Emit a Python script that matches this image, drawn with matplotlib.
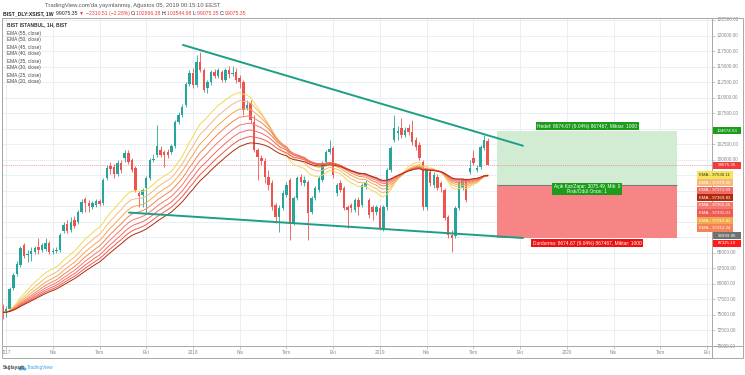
import numpy as np
import pandas as pd
import matplotlib
matplotlib.use("Agg")
import matplotlib.pyplot as plt
import matplotlib.transforms as mtransforms
from matplotlib.patches import Rectangle, Ellipse
from matplotlib.lines import Line2D

plt.rcParams['font.family'] = ['Liberation Sans', 'DejaVu Sans']

# ---------------- data ----------------
week0 = pd.Timestamp('2017-01-02')
dates = pd.date_range('2016-12-26', periods=136, freq='7D')

opens = [76218, 75415, 75897, 79272, 81522, 82968, 86343, 84575, 84896, 85218,
         86021, 85539, 85700, 86664, 85218, 85378, 85539, 88593, 89718, 88753,
         90360, 90039, 91647, 93735, 93093, 92450, 92771, 93414, 93093, 97110,
         99037, 98877, 97752, 99520, 100323, 101127, 100002, 98716, 94699, 94378,
         95503, 97110, 100002, 100805, 101609, 101288, 101288, 101288, 102251, 106109,
         107233, 108840, 112216, 113983, 112054, 115751, 114465, 111572, 112537, 114144,
         113501, 114144, 112858, 114465, 113822, 114144, 113180, 112537, 108358, 109162,
         106109, 101609, 100323, 99841, 97270, 96306, 92771, 90843, 92290, 94378,
         96788, 89878, 93896, 97270, 96306, 96467, 91647, 93896, 95181, 96788,
         99680, 101288, 101930, 94699, 96306, 95503, 92450, 92771, 91968, 93574,
         92771, 95664, 93574, 92450, 91647, 92290, 89075, 92450, 98395, 103216,
         104341, 105144, 104020, 105144, 104502, 103216, 102412, 99680, 92450, 98074,
         95985, 97270, 96306, 95181, 90843, 87950, 87789, 92290, 95503, 96788,
         98074, 100323, 98395, 98877, 101930, 102966.38]
highs = [76700, 76379, 79432, 81682, 83610, 86182, 86664, 85539, 86021, 86182,
         87468, 86664, 87468, 86986, 85860, 86021, 88271, 90039, 90360, 90843,
         91004, 91968, 93735, 94057, 93574, 93414, 93735, 93735, 97110, 99198,
         99680, 99359, 100002, 100002, 101609, 101609, 100323, 99037, 95021, 95503,
         97431, 100323, 100966, 105626, 102251, 101609, 101770, 102573, 106430, 107715,
         108997, 112537, 114465, 114786, 116875, 117358, 114786, 112858, 114465, 114625,
         114786, 114465, 114786, 115108, 115108, 114786, 113661, 112858, 109644, 109644,
         107233, 101930, 100805, 100323, 98395, 96788, 93093, 92771, 95181, 96467,
         97110, 94217, 97431, 97752, 97431, 96788, 94217, 95824, 97431, 99841,
         101609, 103216, 102251, 96306, 96788, 95824, 92771, 93093, 93896, 94057,
         96306, 96788, 93896, 92771, 92771, 92771, 92771, 98716, 102251, 107233,
         105466, 106751, 105305, 105787, 106430, 103698, 102895, 100002, 98716, 98716,
         98074, 97752, 96627, 95503, 91165, 88753, 92610, 96788, 97110, 97110,
         100002, 101609, 99198, 102412, 104020, 103544.98]
lows = [74290, 74611, 75576, 78950, 81200, 82646, 84093, 83450, 83610, 84896,
        84736, 85218, 85378, 84896, 84896, 85057, 85218, 88271, 88271, 88432,
        89075, 89718, 91486, 91647, 91647, 92129, 92450, 92610, 92771, 96788,
        97752, 97110, 97431, 97913, 99680, 99359, 98074, 94860, 92450, 92450,
        91326, 96788, 99680, 100484, 100484, 98877, 100323, 100966, 101930, 105787,
        106912, 108519, 111894, 111572, 111733, 114144, 110930, 110769, 112054, 113180,
        113180, 112537, 112537, 113180, 113501, 112376, 111572, 107233, 108037, 105948,
        101288, 96788, 99198, 96306, 95181, 91968, 89878, 88432, 91968, 94057,
        87146, 89557, 93574, 95985, 95824, 87146, 91326, 93574, 94860, 96467,
        99359, 100966, 97110, 94217, 94860, 91968, 89075, 91647, 91647, 91165,
        92450, 95342, 90682, 90360, 91165, 88753, 88593, 91968, 98074, 102895,
        103216, 103537, 103698, 104020, 102412, 101609, 100002, 91968, 91968, 95824,
        95503, 95181, 94860, 90360, 87468, 85218, 87468, 91968, 95181, 93253,
        97752, 99198, 98074, 98556, 101609, 99075.35]
closes = [75415, 75897, 79111, 81361, 83128, 85860, 84415, 84896, 85378, 85860,
          85539, 86343, 86664, 85218, 85378, 85539, 87950, 89557, 88593, 90039,
          89396, 91647, 93253, 93093, 92610, 93093, 93414, 92932, 96788, 98716,
          98556, 97752, 99520, 98395, 101127, 99680, 98395, 95181, 94217, 95181,
          97110, 100002, 100162, 102251, 100805, 100805, 100805, 102251, 106109, 107233,
          108519, 112216, 113983, 112054, 115751, 114465, 111251, 112537, 114144, 113501,
          114465, 112858, 114465, 113822, 113983, 112858, 112537, 108037, 108840, 106430,
          101609, 100484, 99841, 97270, 95985, 92450, 90843, 92290, 94699, 95985,
          89878, 93896, 97110, 96467, 96788, 91486, 93896, 95503, 97110, 99520,
          101288, 101770, 97592, 95985, 95181, 92290, 91968, 92290, 93574, 92450,
          95985, 96306, 91165, 91647, 92450, 89075, 92450, 98395, 101930, 105144,
          104663, 104020, 104823, 104502, 102895, 102091, 100323, 92450, 98395, 96306,
          97592, 95503, 95664, 90682, 87950, 87468, 92290, 96467, 96788, 93574,
          98716, 99520, 98716, 102091, 103216, 99075.35]

ema_lengths = [20, 25, 30, 35, 40, 45, 50, 55]
ema_colors = ['#f3d84c', '#f6b977', '#f4a84c', '#f48456', '#f27a70', '#f26a62', '#ef5a52', '#b02a0e']
ema_last_values = [97530.11, 97379.40, 97319.42, 97312.34, 97355.25, 97371.09, 97331.01, 97369.83]

tick_dates = pd.to_datetime(['2017-01-02', '2017-04-03', '2017-07-03', '2017-10-02',
                             '2018-01-01', '2018-04-02', '2018-07-02', '2018-10-01',
                             '2018-12-31', '2019-04-01', '2019-07-01', '2019-09-30',
                             '2019-12-30', '2020-03-30', '2020-06-29', '2020-09-28'])
tick_labels = ['2017', 'Nis', 'Tem', 'Eki', '2018', 'Nis', 'Tem', 'Eki',
               '2019', 'Nis', 'Tem', 'Eki', '2020', 'Nis', 'Tem', 'Eki']
price_ticks = list(range(70000, 122501, 2500))

upper_trend_x = [49.2, 143.8]
upper_trend_y = [118480, 102250]
lower_trend_x = [34.2, 143.8]
lower_trend_y = [91490, 87390]

pos_x = [136.6, 186.7]
target_price = 104674.53
entry_price = 95999.86
stop_price = 87325.19
last_price = 99075.35

# ---------------- figure ----------------
W, H = 745, 375
fig = plt.figure(figsize=(W / 100, H / 100), dpi=100)
fig.patch.set_facecolor('white')
ax = fig.add_axes([2 / W, 1 - 346 / H, 710 / W, 328 / H])
ax.set_facecolor('white')

x = ((dates - week0).days / 7).values.astype(float)
O = np.array(opens, float); C = np.array(closes, float)
Hh = np.maximum(np.array(highs, float), np.maximum(O, C))
Ll = np.minimum(np.array(lows, float), np.minimum(O, C))

ylo, yhi = 70112, 122821
ax.set_xlim(-1.14, 196.4)
ax.set_ylim(ylo, yhi)
upp = (yhi - ylo) / 328.0  # price units per pixel

tick_x = ((tick_dates - week0).days / 7).values.astype(float)
grid_c = '#e6edf5'
for t in tick_x:
    ax.axvline(t, color=grid_c, lw=0.6, zorder=0)
for p in price_ticks:
    ax.axhline(p, color=grid_c, lw=0.6, zorder=0)

green, red = '#26a69a', '#ef5350'
cols = np.where(C >= O, green, red)
ax.vlines(x, Ll, Hh, colors=cols, lw=0.6, zorder=2)
ax.bar(x, np.maximum(np.abs(C - O), 60), bottom=np.minimum(O, C), width=0.68,
       color=cols, linewidth=0, zorder=2.1)

close_s = pd.Series(C)
for n, col in zip(ema_lengths, ema_colors):
    ema = close_s.ewm(span=n, adjust=False).mean()
    ax.plot(x, ema.values, color=col, lw=0.7, zorder=3)

tl_c = '#1e9e84'
ax.plot(upper_trend_x, upper_trend_y, color=tl_c, lw=1.4, zorder=4, solid_capstyle='round')
ax.plot(lower_trend_x, lower_trend_y, color=tl_c, lw=1.4, zorder=4, solid_capstyle='round')

# long position tool
ax.add_patch(Rectangle((pos_x[0], entry_price), pos_x[1] - pos_x[0], target_price - entry_price,
                       fc='#d2ecd3', ec='none', zorder=1))
ax.add_patch(Rectangle((pos_x[0], stop_price), pos_x[1] - pos_x[0], entry_price - stop_price,
                       fc='#f88585', ec='none', zorder=1))
ax.hlines(entry_price, pos_x[0], pos_x[1], color='#7a7a7a', lw=0.8, zorder=1.5)
ax.axhline(last_price, color=red, lw=0.5, ls=(0, (1.5, 1.5)), alpha=0.7, zorder=1.2)

ctr = (pos_x[0] + pos_x[1]) / 2
def off(dy_px):
    return mtransforms.offset_copy(ax.transData, fig=fig, x=0, y=dy_px * 0.72, units='points')
ax.text(ctr, target_price, 'Hedef: 8674.67 (9.04%) 867467, Miktar: 1000', transform=off(4.5),
        ha='center', va='center', fontsize=3.5, color='white', zorder=6,
        bbox=dict(boxstyle='square,pad=0.3', fc='#1b9c1b', ec='none'))
ax.text(ctr, entry_price, 'Açık Kar/Zarar: 3075.49, Mik: 0\nRisk/Ödül Oranı: 1', transform=off(-4.5),
        ha='center', va='center', fontsize=3.4, color='white', zorder=6, linespacing=1.0,
        bbox=dict(boxstyle='square,pad=0.3', fc='#1b9c1b', ec='none'))
ax.text(ctr, stop_price, 'Durdurma: 8674.67 (9.04%) 867467, Miktar: 1000', transform=off(-5.0),
        ha='center', va='center', fontsize=3.5, color='white', zorder=6,
        bbox=dict(boxstyle='square,pad=0.3', fc='#ee1111', ec='none'))

# spines / ticks
for s in ax.spines.values():
    s.set_color('#a8a8a8'); s.set_linewidth(0.7)
ax.set_xticks(tick_x)
ax.set_yticks(price_ticks)
ax.yaxis.tick_right()
ax.tick_params(axis='both', length=2, width=0.5, color='#b0b0b0', labelbottom=False, labelright=False)

# time labels
clipbox = mtransforms.Bbox([[2, 0], [712, H]])
blend_x = mtransforms.blended_transform_factory(ax.transData, fig.transFigure)
for t, lab in zip(tick_x, tick_labels):
    tx = ax.text(t, 1 - 352 / H, lab, transform=blend_x, ha='center', va='center',
                 fontsize=3.4, color='#8a8a8a', clip_on=True)
    tx.set_clip_box(clipbox)

# badges on price scale (stacked)
badges = [(target_price, f'{target_price:.2f}', '#1b9c1b', 'white', 'p'),
          (last_price, f'{last_price:.2f}', '#f23b3b', 'white', 'p'),
          (entry_price, f'{entry_price:.2f}', '#707070', 'white', 'p'),
          (stop_price, f'{stop_price:.2f}', '#ff1a1a', 'white', 'p')]
for v, col in zip(ema_last_values, ema_colors):
    tc = '#333333' if col == '#f3d84c' else 'white'
    fc = '#f8e45c' if col == '#f3d84c' else col
    badges.append((v, f'EMA - {v:.2f}', fc, tc, 'e'))
badges.sort(key=lambda b: -b[0])
step = 7.6 * upp
placed = []
prev = None
for v, txt, fc, tc, kind in badges:
    yv = v if prev is None else min(v, prev - step)
    placed.append((yv, txt, fc, tc, kind))
    prev = yv

blend_y = mtransforms.blended_transform_factory(ax.transAxes, ax.transData)
bh = 7.3 * upp
for yv, txt, fc, tc, kind in placed:
    if kind == 'e':
        x0, x1 = (697 - 2) / 710, (733 - 2) / 710
    else:
        x0, x1 = (713 - 2) / 710, (741 - 2) / 710
    ax.add_patch(Rectangle((x0, yv - bh / 2), x1 - x0, bh, transform=blend_y, fc=fc, ec='none',
                           clip_on=False, zorder=7))
    ax.text((x0 + x1) / 2, yv, txt, transform=blend_y, ha='center', va='center', fontsize=3.2,
            color=tc, clip_on=False, zorder=8)

badge_vals = [b[0] for b in placed]
for p in price_ticks:
    if any(abs(p - b) < 5.5 * upp for b in badge_vals):
        continue
    ax.text((717 - 2) / 710, p, f'{p:.2f}', transform=blend_y, ha='left', va='center',
            fontsize=3.4, color='#8a8a8a', clip_on=False, zorder=5)

# outer frame
fr = '#a8a8a8'
fig.add_artist(Rectangle((2 / W, 1 - 358 / H), 741 / W, 340 / H, transform=fig.transFigure,
                         fill=False, ec=fr, lw=0.7))
fig.add_artist(Line2D([712 / W, 712 / W], [1 - 358 / H, 1 - 346 / H], transform=fig.transFigure, color=fr, lw=0.7))
fig.add_artist(Line2D([712 / W, 743 / W], [1 - 346 / H, 1 - 346 / H], transform=fig.transFigure, color=fr, lw=0.7))

# legend
fig.text(7 / W, 1 - 25 / H, 'BIST ISTANBUL, 1H, BIST', fontsize=3.5, fontweight='bold', color='#333333', va='center')
for k, n in enumerate(sorted(ema_lengths, reverse=True)):
    fig.text(7 / W, 1 - (33 + 7 * k) / H, f'EMA ({n}, close)', fontsize=3.4, color='#444444', va='center')

# header
fig.text(133 / W, 1 - 5 / H, "TradingView.com'da yayınlanmış, Ağustos 05, 2019 00:15:10 EEST",
         fontsize=4.2, color='#555555', ha='center', va='center')
renderer = fig.canvas.get_renderer()
def text_run(x_px, y_px, parts, size):
    xx = x_px
    for s, col, wt in parts:
        t = fig.text(xx / W, 1 - y_px / H, s, fontsize=size, color=col, fontweight=wt, ha='left', va='center')
        xx += t.get_window_extent(renderer).width
dk, rd = '#222222', '#ef3b3b'
text_run(3, 13.5, [('BIST_DLY:XSIST, 1W  ', dk, 'bold'), ('99075.35 ', dk, 'normal'),
                   ('▼ ', rd, 'normal'), ('−2310.51 (−2.28%) ', rd, 'normal'),
                   ('O:', dk, 'normal'), ('102966.38 ', rd, 'normal'),
                   ('H:', dk, 'normal'), ('103544.98 ', rd, 'normal'),
                   ('L:', dk, 'normal'), ('99075.35 ', rd, 'normal'),
                   ('C:', dk, 'normal'), ('99075.35', rd, 'normal')], 3.7)

# footer
fig.text(3 / W, 1 - 368 / H, 'Sağlayan:', fontsize=3.3, fontweight='bold', color='#444444', va='center')
for (cx, cy, w_, h_) in [(20.5, 369, 4, 3), (22.5, 367.5, 4, 4), (24.5, 369, 4, 3)]:
    fig.add_artist(Ellipse((cx / W, 1 - cy / H), w_ / W, h_ / H, transform=fig.transFigure,
                           fc='#5aaee8', ec='none'))
fig.text(27 / W, 1 - 368 / H, 'TradingView', fontsize=3.4, color='#3aa0e8', va='center')

fig.savefig('out.png', dpi=100, facecolor='white')
